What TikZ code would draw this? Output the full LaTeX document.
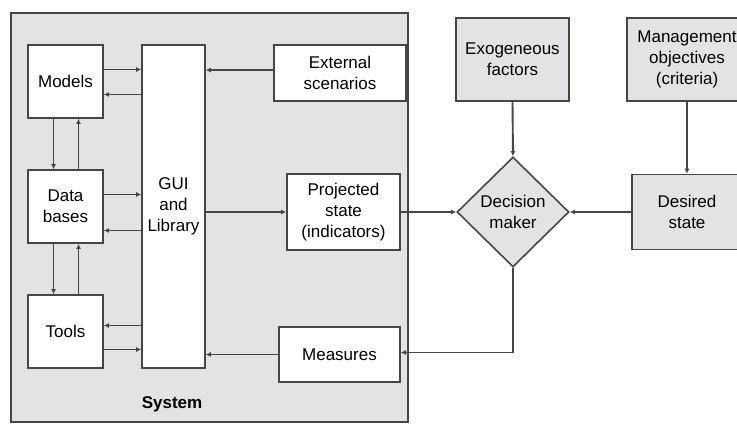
\documentclass[tikz,border=0pt]{standalone}
\usepackage{fontspec}
\setmainfont{Liberation Sans}
\usepackage{tikz}
\usetikzlibrary{calc, positioning, arrows.meta, shapes.geometric}
\definecolor{lineC}{RGB}{70, 70, 70}
\definecolor{shadeC}{RGB}{227, 227, 229}

\begin{document}
\begin{tikzpicture}[x=1pt, y=-1pt, font=\fontsize{17}{21}\selectfont,
  box/.style={draw=lineC, line width=1.6pt, fill=white, align=center, inner sep=1pt},
  gbox/.style={box, fill=shadeC},
  conn/.style={draw=lineC, line width=1.9pt, -{Latex[length=5pt, width=5pt]}}]
  \useasboundingbox (0,0) rectangle (737,424);
  % the system frame
  \node[gbox, minimum width=397, minimum height=409] (sys) at (209.5, 217.5) {};
  \node[font=\fontsize{17}{21}\selectfont\bfseries] (syslab) at (172, 404) {System};

  % inside the system
  \node[box, minimum width=75, minimum height=73] (models) at (65.5, 81.5) {Models};
  \node[box, minimum width=75, minimum height=73] (data) at (65.5, 206.5) {Data\\bases};
  \node[box, minimum width=75, minimum height=73] (tools) at (65.5, 331.5) {Tools};
  \node[box, minimum width=63, minimum height=323] (gui) at (173.5, 206.5) {GUI\\and\\Library};
  \node[box, minimum width=132, minimum height=56] (ext) at (340, 73) {External\\scenarios};
  \node[box, minimum width=113, minimum height=76] (proj) at (343.5, 212) {Projected\\state\\(indicators)};
  \node[box, minimum width=121, minimum height=55] (meas) at (339.5, 354.5) {Measures};

  % outside the system
  \node[gbox, minimum width=113, minimum height=83] (exo) at (512.5, 59.5) {Exogeneous\\factors};
  \node[gbox, minimum width=120, minimum height=83] (mgmt) at (687, 59.5) {Management\\objectives\\(criteria)};
  \node[gbox, minimum width=110, minimum height=75] (desired) at (687, 212) {Desired\\state};
  \node[diamond, draw=lineC, line width=1.6pt, fill=shadeC, minimum width=112, minimum height=110,
    inner sep=0pt, align=center] (dm) at (513, 212) {Decision\\maker};

  % models, data bases, tools <-> GUI
  \draw[conn] ([yshift=12]models.east) -- ([yshift=12]models.east -| gui.west);
  \draw[conn] ([yshift=-13]models.east -| gui.west) -- ([yshift=-13]models.east);
  \draw[conn] ([yshift=12]data.east) -- ([yshift=12]data.east -| gui.west);
  \draw[conn] ([yshift=-24]data.east -| gui.west) -- ([yshift=-24]data.east);
  \draw[conn] ([yshift=6]tools.east -| gui.west) -- ([yshift=6]tools.east);
  \draw[conn] ([yshift=-18]tools.east) -- ([yshift=-18]tools.east -| gui.west);

  % vertical pairs
  \draw[conn] ([xshift=-12]models.south) -- ([xshift=-12]data.north);
  \draw[conn] ([xshift=13]data.north) -- ([xshift=13]models.south);
  \draw[conn] ([xshift=-12]data.south) -- ([xshift=-12]tools.north);
  \draw[conn] ([xshift=13]tools.north) -- ([xshift=13]data.south);

  % right column of the system
  \draw[conn] ([yshift=3]ext.west) -- ([yshift=3]ext.west -| gui.east);
  \draw[conn] (proj.west -| gui.east) -- (proj.west);
  \draw[conn] (meas.west) -- (meas.west -| gui.east);
  \draw[conn] (proj.east) -- (dm.west);
  \draw[conn] (desired.west) -- (dm.east);
  \draw[conn] (exo.south) -- (dm.north);
  \draw[conn] (mgmt.south) -- (desired.north);
  \draw[conn] (dm.south) |- ([yshift=2]meas.east);
\end{tikzpicture}
\end{document}
